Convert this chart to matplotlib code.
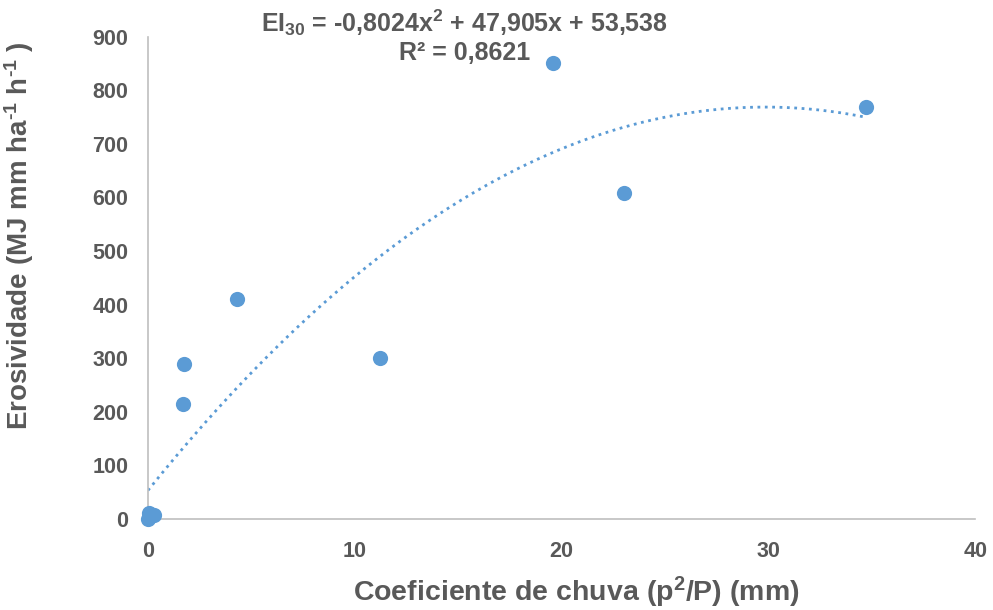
import numpy as np
import matplotlib.pyplot as plt

plt.rcParams['font.family'] = ['Liberation Sans', 'DejaVu Sans']
plt.rcParams['mathtext.fontset'] = 'custom'
plt.rcParams['mathtext.rm'] = 'Liberation Sans:bold'
plt.rcParams['mathtext.bf'] = 'Liberation Sans:bold'
plt.rcParams['mathtext.it'] = 'Liberation Sans:bold'
plt.rcParams['mathtext.default'] = 'bf'

# observed points
coef_chuva = [0.0, 0.05, 0.1, 0.3, 1.7, 1.75, 4.3, 11.2, 19.6, 23.0, 34.7]
erosividade = [0, 12, 5, 8, 214, 289, 410, 300, 851, 609, 768]

# trend line coefficients (a x^2 + b x + c)
a, b, c = -0.8024, 47.905, 53.538

blue = '#5B9BD5'
gray = '#595959'

fig, ax = plt.subplots(figsize=(9.93, 6.10), dpi=100)
fig.subplots_adjust(left=0.149, right=0.982, bottom=0.149, top=0.94)

xs = np.linspace(0, max(coef_chuva), 200)
ax.plot(xs, a * xs**2 + b * xs + c, ':', color=blue, linewidth=2)
ax.scatter(coef_chuva, erosividade, s=120, color=blue, zorder=3, linewidths=0,
           clip_on=False)

ax.set_xlim(0, 40)
ax.set_ylim(0, 900)
ax.set_xticks(range(0, 41, 10))
ax.set_yticks(range(0, 901, 100))

for s in ['top', 'right']:
    ax.spines[s].set_visible(False)
for s in ['left', 'bottom']:
    ax.spines[s].set_color('#BFBFBF')
    ax.spines[s].set_linewidth(1.2)
ax.tick_params(length=0, labelsize=15.5, labelcolor=gray)
ax.tick_params(axis='x', pad=16)
ax.tick_params(axis='y', pad=14)
for lab in ax.get_xticklabels() + ax.get_yticklabels():
    lab.set_fontweight('bold')

ax.set_xlabel('Coeficiente de chuva (p$^{2}$/P) (mm)', fontsize=20.5,
              fontweight='bold', color=gray)
ax.set_ylabel('Erosividade (MJ mm ha$^{\\text{-}1}$ h$^{\\text{-}1}$ )', fontsize=20,
              fontweight='bold', color=gray)
ax.xaxis.set_label_coords(0.518, -0.116)
ax.yaxis.set_label_coords(-0.135, 0.588)

ax.text(0.383, 1.0, 'EI$_{30}$ = -0,8024x$^{2}$ + 47,905x + 53,538\nR² = 0,8621',
        transform=ax.transAxes, ha='center', va='center', fontsize=18,
        fontweight='bold', color=gray, linespacing=1.15)

fig.savefig('out.png', dpi=100)
